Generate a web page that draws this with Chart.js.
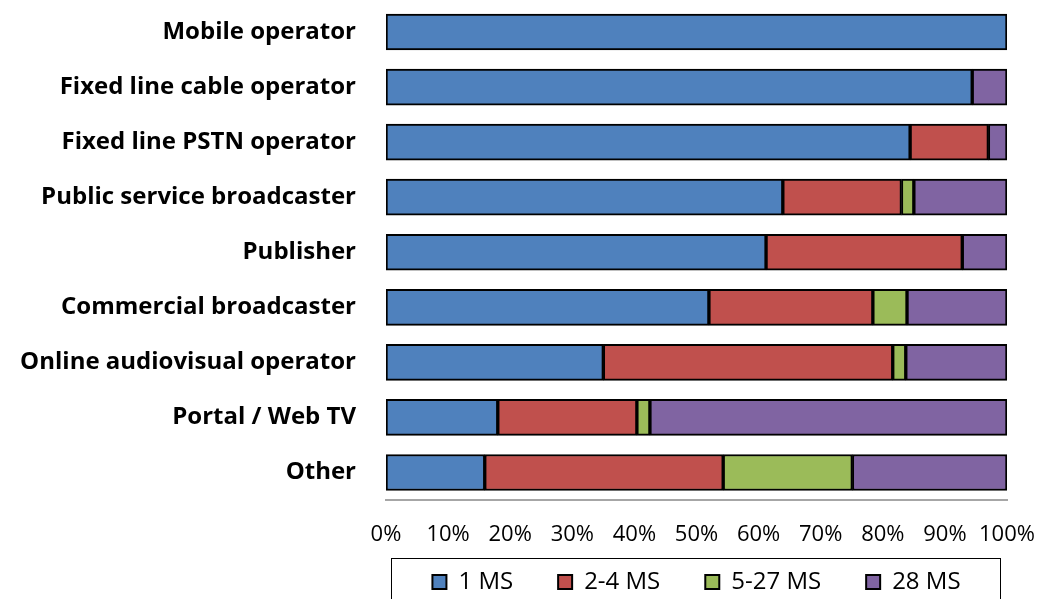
<!DOCTYPE html>
<html>
<head>
<meta charset="utf-8">
<script src="https://cdn.jsdelivr.net/npm/chart.js@4"></script>
<style>
html,body{margin:0;padding:0;background:#fff;}
#wrap{width:1038px;height:599px;position:relative;}
</style>
</head>
<body>
<div id="wrap"><canvas id="c" width="1038" height="599"></canvas></div>
<script>
const categories = ["Mobile operator","Fixed line cable operator","Fixed line PSTN operator","Public service broadcaster","Publisher","Commercial broadcaster","Online audiovisual operator","Portal / Web TV","Other"];
const seriesNames = ["1 MS","2-4 MS","5-27 MS","28 MS"];
const ms1   = [100, 94.4, 84.4, 63.9, 61.2, 52.0, 35.0, 18.0, 15.9];
const ms2_4 = [0, 0, 12.6, 19.1, 31.6, 26.4, 46.6, 22.4, 38.4];
const ms5_27= [0, 0, 0, 2.0, 0, 5.5, 2.1, 2.1, 20.8];
const ms28  = [0, 5.6, 3.0, 15.0, 7.2, 16.1, 16.3, 57.5, 24.9];
const tickValues = [0,10,20,30,40,50,60,70,80,90,100];
const colors = ["#4F81BD","#C0504D","#9BBB59","#8064A2"];

const FONT = "'Open Sans', sans-serif";
const LEGEND_PAD = 45;

const legendBox = {
  id: 'legendBox',
  afterLayout(chart){
    const lg = chart.legend;
    if(!lg) return;
    lg.top = 570 - LEGEND_PAD;
    lg.bottom = 610;
  },
  afterDraw(chart){
    const lg = chart.legend;
    if(!lg || !lg.legendHitBoxes || !lg.legendHitBoxes.length) return;
    const hb = lg.legendHitBoxes;
    const left = Math.min(...hb.map(h=>h.left)) - 41;
    const right = Math.max(...hb.map(h=>h.left+h.width)) + 40;
    const top = 558.5;
    const ctx = chart.ctx;
    ctx.save();
    ctx.strokeStyle = '#000';
    ctx.lineWidth = 1;
    ctx.strokeRect(Math.round(left)+0.5, top, Math.round(right-left), 60);
    ctx.restore();
  }
};

const mk = (label, data, i) => ({
  label, data,
  backgroundColor: colors[i],
  borderColor: '#000',
  borderWidth: 2,
  borderSkipped: false,
  barThickness: 36
});

new Chart(document.getElementById('c'), {
  type: 'bar',
  data: {
    labels: categories,
    datasets: [mk(seriesNames[0], ms1, 0), mk(seriesNames[1], ms2_4, 1), mk(seriesNames[2], ms5_27, 2), mk(seriesNames[3], ms28, 3)]
  },
  options: {
    indexAxis: 'y',
    responsive: false,
    animation: false,
    layout: { padding: { left: 0, right: 31, top: 4.5, bottom: 0 } },
    plugins: {
      tooltip: { enabled: false },
      legend: {
        position: 'bottom',
        fullSize: false,
        maxHeight: 38,
        labels: {
          font: { family: FONT, size: 24 },
          color: '#000',
          boxWidth: 14,
          boxHeight: 14,
          padding: LEGEND_PAD
        }
      }
    },
    scales: {
      x: {
        stacked: true,
        min: 0, max: 100,
        afterBuildTicks(scale){ scale.ticks = tickValues.map(v=>({value:v})); },
        afterFit(scale){ scale.height = 61; scale.paddingLeft = 0; scale.paddingRight = 0; },
        grid: { display: false, drawTicks: false },
        border: { display: true, color: '#A6A6A6', width: 2 },
        ticks: {
          font: { family: FONT, size: 22 },
          color: '#000',
          padding: 22,
          maxRotation: 0,
          autoSkip: false,
          callback: v => v + '%'
        }
      },
      y: {
        stacked: true,
        afterFit(scale){ scale.width = 386; scale.paddingTop = 0; scale.paddingBottom = 0; },
        grid: { display: false, drawTicks: false },
        border: { display: false },
        ticks: {
          font: { family: FONT, size: 24, weight: 'bold' },
          color: '#000',
          padding: 30,
          autoSkip: false
        }
      }
    }
  },
  plugins: [legendBox]
});
</script>
</body>
</html>
